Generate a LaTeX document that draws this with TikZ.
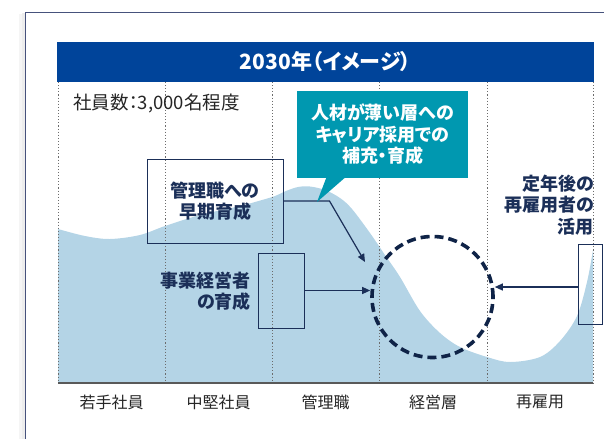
\documentclass[tikz,border=0pt]{standalone}
\usepackage{fontspec}
\setmainfont[RawFeature=+palt]{Noto Sans CJK JP}
\usetikzlibrary{arrows.meta}
\definecolor{hdrblue}{HTML}{00449A}
\definecolor{tealc}{HTML}{0098B0}
\definecolor{navy}{HTML}{1B2F58}
\definecolor{dnavy}{HTML}{0F2347}
\definecolor{lblue}{HTML}{B4D4E6}
\definecolor{framec}{HTML}{46527C}
\definecolor{txtc}{HTML}{262626}
\tikzset{
  dotline/.style={gray!85!black, line width=0.9pt, dash pattern=on 1.1pt off 2pt},
  navybox/.style={draw=navy, line width=1pt, inner sep=0pt},
  boldtxt/.style={text=navy, font=\fontsize{18}{21.5}\selectfont\bfseries, inner sep=0pt},
  lbl/.style={text=txtc, font=\fontsize{16}{18}\selectfont, inner sep=0pt},
  arr/.style={draw=navy, line width=1.2pt, -{Triangle[length=8pt,width=7pt]}},
}
\begin{document}
\begin{tikzpicture}[x=1pt,y=-1pt]
\useasboundingbox (0,0) rectangle (604,439);
% shadow and frame
\fill[black!4] (19,14) rectangle (25,439);
\fill[black!7] (22,13) rectangle (25,439);
\draw[framec, line width=1pt] (25,439) -- (25,12) -- (604,12);
% header
\node[fill=hdrblue, minimum width=537, minimum height=40, inner sep=0pt, text=white,
      font=\fontsize{21}{24}\selectfont\bfseries] (hdr) at (325.5,62) {2030年（イメージ）};
% wave
\fill[lblue] (58,383) -- plot[smooth, tension=0.55] coordinates {(58,229) (85,236) (110,239) (140,235) (165,226) (200,215) (240,206) (262,200) (275,196) (286,191) (298,187) (310,186.5) (325,190) (340,198) (352,209) (370,233) (385,255) (400,277) (420,311) (440,333) (460,347) (487,357) (510,362) (540,357) (560,341) (577,316) (587,282) (593,250)} -- (593,383) -- cycle;
% dotted grid
\foreach \x in {58,165,272,379,487,593} \draw[dotline] (\x,82) -- (\x,383);
\draw[gray!70!black, line width=1.2pt] (58,383) -- (593,383);
% bottom labels
\node[lbl] (c1) at (111.5,402) {若手社員};
\node[lbl] (c2) at (218.5,402) {中堅社員};
\node[lbl] (c3) at (325.5,402) {管理職};
\node[lbl] (c4) at (433,402) {経営層};
\node[lbl] (c5) at (540,402) {再雇用};
\node[lbl, anchor=west, font=\fontsize{18.5}{21}\selectfont] (cnt) at (73,103) {社員数：3,000名程度};
% circle
\node[draw=dnavy, circle, minimum size=121, line width=3.6pt, dash pattern=on 9pt off 5pt, inner sep=0pt] (circ) at (432.5,297) {};
% box 1
\node[navybox, minimum width=136, minimum height=84, align=center, boldtxt] (box1) at (215,201) {管理職への\\早期育成};
\coordinate (a1end) at (365,262);
\draw[arr] (box1.east) -- ++(46,0) -- (a1end);
% box 2
\node[navybox, minimum width=46, minimum height=75] (box2) at (281,290.5) {};
\node[boldtxt, align=right, anchor=east] (t2) at (251,291) {事業経営者\\の育成};
\draw[arr] (box2.east) -- (circ.west |- box2.east);
% box 3
\node[navybox, minimum width=24, minimum height=80] (box3) at (590,284) {};
\node[boldtxt, align=right, anchor=east] (t3) at (594,205) {定年後の\\再雇用者の\\活用};
\coordinate (b3w) at ([yshift=-3pt]box3.west);
\draw[arr] (b3w) -- (circ.east |- b3w);
% callout
\node[fill=tealc, minimum width=171, minimum height=87, align=center, inner sep=0pt,
      text=white, font=\fontsize{18}{21.5}\selectfont\bfseries] (call) at (382.5,134.5) {人材が薄い層への\\キャリア採用での\\補充・育成};
\coordinate (tip) at (317,202);
\fill[tealc] ([xshift=-56pt,yshift=1pt]call.south) -- (tip) -- ([xshift=-37pt,yshift=1pt]call.south) -- cycle;
\end{tikzpicture}
\end{document}
